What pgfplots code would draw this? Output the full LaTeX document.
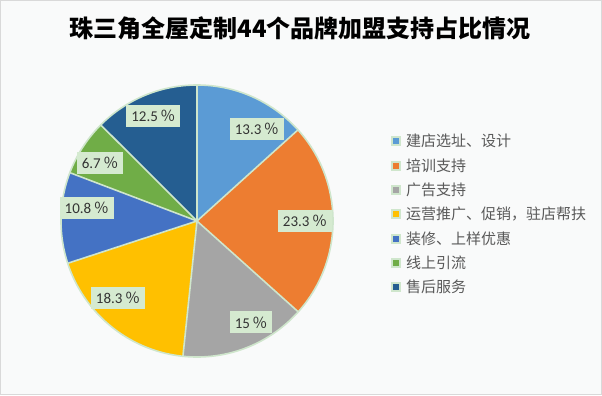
\documentclass[border=0pt]{standalone}
\usepackage{pgfplots}
\pgfplotsset{compat=1.18}
\usepackage{pgfplotstable}
\usepackage{fontspec}
\setmainfont{Noto Sans CJK SC}
\newfontfamily\cjk{Noto Sans CJK SC}
\newfontfamily\numfont{Carlito}
\definecolor{c0}{HTML}{5B9BD5}
\definecolor{c1}{HTML}{ED7D31}
\definecolor{c2}{HTML}{A5A5A5}
\definecolor{c3}{HTML}{FFC000}
\definecolor{c4}{HTML}{4472C4}
\definecolor{c5}{HTML}{70AD47}
\definecolor{c6}{HTML}{255E91}
\definecolor{edge}{HTML}{CFE6CC}
\definecolor{lblbg}{HTML}{D5EAD0}
\definecolor{bg}{HTML}{F9FAFA}
\definecolor{frame}{HTML}{D9D9D9}
\definecolor{legtxt}{HTML}{595959}
\definecolor{lbltxt}{HTML}{333333}

% value, label radius (px), label angle shift (deg, clockwise)
\pgfplotstableread{
v    lr   dt
13.3 110  9
23.3 108  0
15   115  -7
18.3 110  7
10.8 111  5.4
6.7  113  -2
12.5 114  0
}\piedata

\begin{document}
\begin{tikzpicture}
\pgfplotstablegetrowsof{\piedata}
\pgfmathtruncatemacro\nrows{\pgfplotsretval-1}
\def\total{0}
\pgfplotsforeachungrouped \i in {0,...,\nrows}{%
  \pgfplotstablegetelem{\i}{v}\of\piedata
  \pgfmathsetmacro\total{\total+\pgfplotsretval}%
}
\begin{axis}[
  x=1bp, y=1bp, scale only axis,
  xmin=0, xmax=602, ymin=0, ymax=395,
  hide axis, clip=false,
  legend image code/.code={\filldraw[#1, line width=2bp] (0bp,-4bp) rectangle (8bp,4bp);},
  legend style={at={(axis cs:391,262)}, anchor=north west, draw=none, fill=none,
    inner sep=0pt, row sep=8.2bp,
    /tikz/every odd column/.style={column sep=4bp},
    font=\cjk\fontsize{15bp}{18bp}\selectfont\color{legtxt},
    nodes={inner sep=1bp, anchor=west}},
  legend cell align=left,
]
\filldraw[fill=bg, draw=frame, line width=1bp] (axis cs:0.5,0.5) rectangle (axis cs:601.5,394.5);
\node[font=\cjk\bfseries\fontsize{24bp}{28bp}\selectfont, text=black] at (axis cs:300,367) {珠三角全屋定制44个品牌加盟支持占比情况};
\def\cum{0}
\pgfplotsforeachungrouped \i in {0,...,\nrows}{%
  \pgfplotstablegetelem{\i}{v}\of\piedata \let\val\pgfplotsretval
  \pgfmathsetmacro\sa{90-\cum/\total*360}%
  \pgfmathsetmacro\ea{90-(\cum+\val)/\total*360}%
  \pgfmathsetmacro\px{197+136*cos(\sa)}%
  \pgfmathsetmacro\py{174+136*sin(\sa)}%
  \edef\cmd{\noexpand\fill[c\i] (axis cs:197,174) -- (axis cs:\px,\py) arc[start angle=\sa, end angle=\ea, radius=136bp] -- cycle;}%
  \cmd
  \pgfmathsetmacro\cum{\cum+\val}%
}
\def\cum{0}
\pgfplotsforeachungrouped \i in {0,...,\nrows}{%
  \pgfplotstablegetelem{\i}{v}\of\piedata \let\val\pgfplotsretval
  \pgfmathsetmacro\sa{90-\cum/\total*360}%
  \pgfmathsetmacro\px{197+136*cos(\sa)}%
  \pgfmathsetmacro\py{174+136*sin(\sa)}%
  \edef\cmd{\noexpand\draw[edge, line width=1.6bp] (axis cs:197,174) -- (axis cs:\px,\py);}%
  \cmd
  \pgfmathsetmacro\cum{\cum+\val}%
}
\draw[edge, line width=1.6bp] (axis cs:197,174) circle[radius=136bp];
\def\cum{0}
\pgfplotsforeachungrouped \i in {0,...,\nrows}{%
  \pgfplotstablegetelem{\i}{v}\of\piedata \let\val\pgfplotsretval
  \pgfplotstablegetelem{\i}{lr}\of\piedata \let\lr\pgfplotsretval
  \pgfplotstablegetelem{\i}{dt}\of\piedata \let\dt\pgfplotsretval
  \pgfmathsetmacro\sa{90-\cum/\total*360}%
  \pgfmathsetmacro\ea{90-(\cum+\val)/\total*360}%
  \pgfmathsetmacro\la{(\sa+\ea)/2-\dt}%
  \pgfmathsetmacro\lx{197+\lr*cos(\la)}%
  \pgfmathsetmacro\ly{174+\lr*sin(\la)}%
  \edef\cmd{\noexpand\node[fill=lblbg, text=lbltxt, inner xsep=5bp, minimum height=22bp, font=\noexpand\numfont\noexpand\fontsize{15bp}{18bp}\noexpand\selectfont] at (axis cs:\lx,\ly) {\val\noexpand\,\noexpand\cjk{\noexpand\fontsize{15bp}{18bp}\noexpand\selectfont ％}};}%
  \cmd
  \pgfmathsetmacro\cum{\cum+\val}%
}
\addlegendimage{fill=c0, draw=edge}
\addlegendentry{建店选址、设计}
\addlegendimage{fill=c1, draw=edge}
\addlegendentry{培训支持}
\addlegendimage{fill=c2, draw=edge}
\addlegendentry{广告支持}
\addlegendimage{fill=c3, draw=edge}
\addlegendentry{运营推广、促销，驻店帮扶}
\addlegendimage{fill=c4, draw=edge}
\addlegendentry{装修、上样优惠}
\addlegendimage{fill=c5, draw=edge}
\addlegendentry{线上引流}
\addlegendimage{fill=c6, draw=edge}
\addlegendentry{售后服务}
\end{axis}
\end{tikzpicture}
\end{document}
